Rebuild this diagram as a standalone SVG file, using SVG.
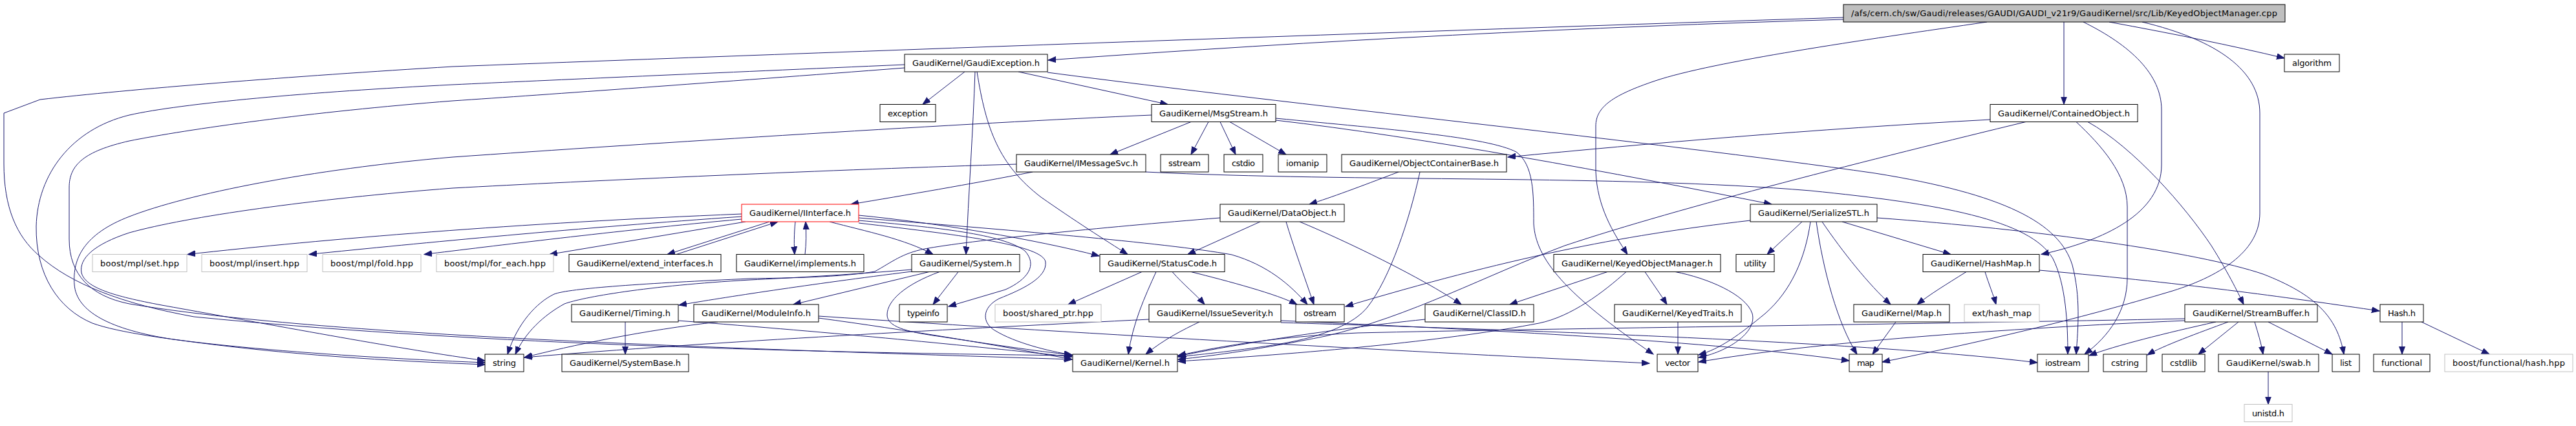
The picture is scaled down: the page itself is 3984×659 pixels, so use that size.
<svg xmlns="http://www.w3.org/2000/svg" width="3984" height="659" viewBox="0 0 3984 659">
<style>
.n rect{fill:#ffffff;stroke:#000000;stroke-width:1}
.x rect{fill:#ffffff;stroke:#bfbfbf;stroke-width:1}
.r rect{fill:#ffffff;stroke:#ff0000;stroke-width:1}
.root rect{fill:#bfbfbf;stroke:#000000;stroke-width:1}
text{font-family:"DejaVu Sans","Liberation Sans",sans-serif;font-size:13px;text-anchor:middle;fill:#000000}
#edges path{fill:none;stroke:#191970;stroke-width:1;marker-end:url(#a)}
</style>
<defs>
<marker id="a" markerUnits="userSpaceOnUse" markerWidth="13" markerHeight="10" refX="12" refY="4.5" orient="auto">
<path d="M0,0 L12,4.5 L0,9 z" fill="#191970" stroke="#191970" stroke-width="1"/>
</marker>
</defs>
<rect x="0" y="0" width="3984" height="659" fill="#ffffff"/>
<g id="edges">
<path d="M2851,30 C2450,42 2050,62 1621,93"/>
<path d="M2851,27 C2200,48 1300,80 700,103 C450,118 200,138 62,154 L6,175 L6,253 C6,320 25,365 60,395 C110,440 190,470 300,490 C700,530 1200,545 1658,550"/>
<path d="M3073,34 C2880,62 2650,95 2560,125 C2495,147 2468,165 2468,195 L2468,265 C2470,320 2495,360 2517,393.5"/>
<path d="M3192,34 L3192,161.5"/>
<path d="M3222,34 C3295,70 3343,115 3343,170 L3343,255 C3343,330 3255,372 3157,393.5"/>
<path d="M3262,34 C3360,52 3450,70 3533,90"/>
<path d="M3313,34 C3430,62 3495,110 3495,175 L3495,330 C3495,385 3440,425 3360,450 C3210,495 3060,530 2911,560"/>
<path d="M1492,111 L1427,161.5"/>
<path d="M1575,111 L1806,161.5"/>
<path d="M1508,111 C1505,200 1498,300 1494,393.5"/>
<path d="M1511,111 C1525,200 1545,255 1610,305 C1660,340 1710,372 1744,393.5"/>
<path d="M1620,112 C2000,162 2550,218 2900,268 C3100,300 3185,345 3205,410 C3218,460 3214,505 3211,548"/>
<path d="M1399,100 C1100,113 850,124 700,131 C480,142 280,160 200,178 C110,200 58,270 56,350 C55,425 90,478 143,500 C220,528 480,550 750,561"/>
<path d="M1399,105 C1100,128 850,146 700,156 C480,173 290,200 200,218 C130,234 107,255 107,290 L107,370 C107,425 140,458 200,470 C500,520 1100,538 1658,556"/>
<path d="M1842,188.5 L1717,239"/>
<path d="M1869,188.5 L1842,239"/>
<path d="M1887,188.5 L1911,239"/>
<path d="M1902,188.5 L1989,239"/>
<path d="M1973,186 C2200,212 2500,268 2740,316"/>
<path d="M1973,183 C2150,200 2300,212 2345,235 C2372,255 2372,300 2372,346 C2375,400 2420,455 2557,548"/>
<path d="M1781,178 C1500,190 1000,222 700,243 C480,262 290,300 200,335 C130,362 112,400 115,440 C118,482 170,510 268,525 C450,550 600,558 750,564"/>
<path d="M1597,266 C1500,285 1400,302 1316,316"/>
<path d="M1772,266 C2100,282 2500,270 2800,295 C3000,315 3140,340 3175,400 C3195,440 3198,500 3198,548"/>
<path d="M1572,254 C1300,262 900,280 700,291 C480,308 290,335 200,360 C145,378 122,400 126,422 C132,445 175,458 250,472 C450,508 620,540 750,558"/>
<path d="M1147,331 C800,345 500,370 290,393.5"/>
<path d="M1147,335 C900,352 650,376 478,393.5"/>
<path d="M1147,339 C950,357 760,381 656,393.5"/>
<path d="M1153,343 L850,393.5"/>
<path d="M1190,343 L1032,393.5"/>
<path d="M1046,393.5 L1203,343"/>
<path d="M1230,343 C1228,362 1228,380 1229,393.5"/>
<path d="M1245,393.5 C1247,378 1247,360 1246,343"/>
<path d="M1283,343 C1340,358 1400,370 1443,393.5"/>
<path d="M1328,333 C1450,345 1600,370 1700,396"/>
<path d="M1328,337 C1550,355 1800,375 1905,394 C1960,410 1995,440 2022,471"/>
<path d="M1328,341 C1450,352 1550,362 1585,388 C1605,410 1590,432 1555,448 L1467,474"/>
<path d="M1328,345 C1500,365 1612,380 1617,405 C1620,430 1580,448 1545,462 C1518,476 1518,500 1540,512 C1570,530 1620,543 1658,549"/>
<path d="M1887,337 C1700,352 1500,372 1430,385 C1395,392 1380,405 1353,420 C1300,429 1220,430 1160,431 C1000,438 880,446 857,455 C830,468 800,500 785,548"/>
<path d="M1410,420 C1250,440 1120,460 1050,472"/>
<path d="M1437,420.5 L1227,471"/>
<path d="M1482,420.5 L1443,471"/>
<path d="M1410,417 C1300,426 1220,430 1160,433 C1000,442 900,460 873,470 C840,488 812,515 797,548"/>
<path d="M1453,420.5 C1400,440 1372,465 1372,487 C1372,505 1400,513 1450,520 C1530,532 1600,543 1658,549"/>
<path d="M967,498 L967,548"/>
<path d="M1049,496 C1300,515 1500,535 1658,552"/>
<path d="M1110,498 C1000,510 880,535 811,553"/>
<path d="M1266,492 C1400,510 1550,535 1658,556"/>
<path d="M1266,489 C1700,518 2200,545 2551,562"/>
<path d="M1766,420.5 L1652,471"/>
<path d="M1788,420.5 C1770,460 1752,500 1745,548"/>
<path d="M1813,420.5 C1830,440 1850,456 1863,471"/>
<path d="M1842,420.5 C1900,435 1975,455 2006,471"/>
<path d="M1855,498 C1830,510 1800,525 1772,548"/>
<path d="M1777,494 C1500,508 1100,528 811,553"/>
<path d="M1981,496 C2300,510 2650,528 2860,558"/>
<path d="M1981,499 C2400,512 2900,530 3151,561"/>
<path d="M1949,343 L1837,393.5"/>
<path d="M1989,343 C2000,380 2018,430 2032,471"/>
<path d="M2010,343 C2080,372 2200,430 2260,471"/>
<path d="M2163,266 C2100,290 2060,305 2025,316"/>
<path d="M2196,266 C2180,340 2150,430 2115,475 C2095,500 2050,520 1980,532 C1920,542 1860,548 1822,552"/>
<path d="M3078,185 C2800,200 2550,222 2332,243"/>
<path d="M3133,188.5 C2900,245 2600,320 2420,380 C2300,425 2180,490 2050,520 C1950,540 1880,550 1822,556"/>
<path d="M3211,188.5 C3250,225 3290,270 3290,320 L3290,430 C3290,480 3262,520 3224,548"/>
<path d="M3229,188.5 C3300,228 3380,320 3420,380 C3445,420 3460,450 3470,471"/>
<path d="M2486,420.5 L2335,471"/>
<path d="M2515,420.5 C2480,452 2430,490 2380,500 C2250,525 2050,545 1822,559"/>
<path d="M2544,420.5 C2555,437 2568,455 2578,471"/>
<path d="M2591,420.5 C2640,430 2700,455 2710,485 C2718,515 2670,545 2627,553"/>
<path d="M2595,498 L2595,548"/>
<path d="M2787,343 L2733,393.5"/>
<path d="M2800,343 C2792,400 2770,450 2730,485 C2690,518 2660,540 2627,549"/>
<path d="M2809,343 C2820,420 2842,500 2872,548"/>
<path d="M2818,343 C2850,390 2890,440 2924,471"/>
<path d="M2849,343 L3017,393.5"/>
<path d="M2903,337 C3150,355 3400,390 3500,424 C3580,455 3615,490 3625,548"/>
<path d="M2707,341 C2500,365 2330,400 2081,474"/>
<path d="M3041,420.5 C3010,440 2985,455 2965,471"/>
<path d="M3070,420.5 C3076,440 3083,456 3087,471"/>
<path d="M3154,418 C3400,440 3550,462 3680,481"/>
<path d="M2932,498 L2896,548"/>
<path d="M3379,493 C3000,501 2400,508 2100,515 C1950,522 1870,540 1822,550"/>
<path d="M3379,496 C3100,508 2800,530 2627,560"/>
<path d="M3427,498 C3350,515 3270,535 3231,550"/>
<path d="M3446,498 C3400,515 3345,535 3321,549"/>
<path d="M3462,498 L3400,548"/>
<path d="M3487,498 C3492,515 3497,530 3500,548"/>
<path d="M3508,498 L3607,548"/>
<path d="M3715,498 L3715,548"/>
<path d="M3745,498 L3850,548"/>
<path d="M3508,575 L3508,625.5"/>
<path d="M2204,494 C2050,510 1900,535 1822,551"/>
</g>
<g id="n_top" class="root"><rect x="2851" y="7" width="683" height="27"/><text x="3192.5" y="25" textLength="659" lengthAdjust="spacing">/afs/cern.ch/sw/Gaudi/releases/GAUDI/GAUDI_v21r9/GaudiKernel/src/Lib/KeyedObjectManager.cpp</text></g>
<g id="n_gexc" class="n"><rect x="1399" y="84" width="221" height="27"/><text x="1509.5" y="102" textLength="197" lengthAdjust="spacing">GaudiKernel/GaudiException.h</text></g>
<g id="n_algorithm" class="n"><rect x="3533" y="84" width="85" height="27"/><text x="3575.5" y="102" textLength="61" lengthAdjust="spacing">algorithm</text></g>
<g id="n_exception" class="n"><rect x="1361" y="161.5" width="86" height="27"/><text x="1404" y="179.5" textLength="62" lengthAdjust="spacing">exception</text></g>
<g id="n_msgstream" class="n"><rect x="1781" y="161.5" width="192" height="27"/><text x="1877" y="179.5" textLength="168" lengthAdjust="spacing">GaudiKernel/MsgStream.h</text></g>
<g id="n_contained" class="n"><rect x="3078" y="161.5" width="228" height="27"/><text x="3192" y="179.5" textLength="204" lengthAdjust="spacing">GaudiKernel/ContainedObject.h</text></g>
<g id="n_imsgsvc" class="n"><rect x="1572" y="239" width="200" height="27"/><text x="1672" y="257" textLength="176" lengthAdjust="spacing">GaudiKernel/IMessageSvc.h</text></g>
<g id="n_sstream" class="n"><rect x="1795" y="239" width="74" height="27"/><text x="1832" y="257" textLength="50" lengthAdjust="spacing">sstream</text></g>
<g id="n_cstdio" class="n"><rect x="1893" y="239" width="60" height="27"/><text x="1923" y="257" textLength="36" lengthAdjust="spacing">cstdio</text></g>
<g id="n_iomanip" class="n"><rect x="1977" y="239" width="75" height="27"/><text x="2014.5" y="257" textLength="51" lengthAdjust="spacing">iomanip</text></g>
<g id="n_ocb" class="n"><rect x="2075" y="239" width="255" height="27"/><text x="2202.5" y="257" textLength="231" lengthAdjust="spacing">GaudiKernel/ObjectContainerBase.h</text></g>
<g id="n_iinterface" class="r"><rect x="1147" y="316" width="181" height="27"/><text x="1237.5" y="334" textLength="157" lengthAdjust="spacing">GaudiKernel/IInterface.h</text></g>
<g id="n_dataobject" class="n"><rect x="1887" y="316" width="192" height="27"/><text x="1983" y="334" textLength="168" lengthAdjust="spacing">GaudiKernel/DataObject.h</text></g>
<g id="n_serialize" class="n"><rect x="2707" y="316" width="196" height="27"/><text x="2805" y="334" textLength="172" lengthAdjust="spacing">GaudiKernel/SerializeSTL.h</text></g>
<g id="n_mplset" class="x"><rect x="143" y="393.5" width="146" height="27"/><text x="216" y="411.5" textLength="122" lengthAdjust="spacing">boost/mpl/set.hpp</text></g>
<g id="n_mplinsert" class="x"><rect x="312" y="393.5" width="163" height="27"/><text x="393.5" y="411.5" textLength="139" lengthAdjust="spacing">boost/mpl/insert.hpp</text></g>
<g id="n_mplfold" class="x"><rect x="499" y="393.5" width="152" height="27"/><text x="575" y="411.5" textLength="128" lengthAdjust="spacing">boost/mpl/fold.hpp</text></g>
<g id="n_mplforeach" class="x"><rect x="675" y="393.5" width="181" height="27"/><text x="765.5" y="411.5" textLength="157" lengthAdjust="spacing">boost/mpl/for_each.hpp</text></g>
<g id="n_extend" class="n"><rect x="880" y="393.5" width="235" height="27"/><text x="997.5" y="411.5" textLength="211" lengthAdjust="spacing">GaudiKernel/extend_interfaces.h</text></g>
<g id="n_implements" class="n"><rect x="1139" y="393.5" width="197" height="27"/><text x="1237.5" y="411.5" textLength="173" lengthAdjust="spacing">GaudiKernel/implements.h</text></g>
<g id="n_system" class="n"><rect x="1410" y="393.5" width="167" height="27"/><text x="1493.5" y="411.5" textLength="143" lengthAdjust="spacing">GaudiKernel/System.h</text></g>
<g id="n_statuscode" class="n"><rect x="1701" y="393.5" width="193" height="27"/><text x="1797.5" y="411.5" textLength="169" lengthAdjust="spacing">GaudiKernel/StatusCode.h</text></g>
<g id="n_kom" class="n"><rect x="2403" y="393.5" width="258" height="27"/><text x="2532" y="411.5" textLength="234" lengthAdjust="spacing">GaudiKernel/KeyedObjectManager.h</text></g>
<g id="n_utility" class="n"><rect x="2685" y="393.5" width="59" height="27"/><text x="2714.5" y="411.5" textLength="35" lengthAdjust="spacing">utility</text></g>
<g id="n_hashmap" class="n"><rect x="2974" y="393.5" width="180" height="27"/><text x="3064" y="411.5" textLength="156" lengthAdjust="spacing">GaudiKernel/HashMap.h</text></g>
<g id="n_timing" class="n"><rect x="884" y="471" width="165" height="27"/><text x="966.5" y="489" textLength="141" lengthAdjust="spacing">GaudiKernel/Timing.h</text></g>
<g id="n_moduleinfo" class="n"><rect x="1073" y="471" width="193" height="27"/><text x="1169.5" y="489" textLength="169" lengthAdjust="spacing">GaudiKernel/ModuleInfo.h</text></g>
<g id="n_typeinfo" class="n"><rect x="1391" y="471" width="74" height="27"/><text x="1428" y="489" textLength="50" lengthAdjust="spacing">typeinfo</text></g>
<g id="n_sharedptr" class="x"><rect x="1539" y="471" width="164" height="27"/><text x="1621" y="489" textLength="140" lengthAdjust="spacing">boost/shared_ptr.hpp</text></g>
<g id="n_issue" class="n"><rect x="1777" y="471" width="204" height="27"/><text x="1879" y="489" textLength="180" lengthAdjust="spacing">GaudiKernel/IssueSeverity.h</text></g>
<g id="n_ostream" class="n"><rect x="2004" y="471" width="75" height="27"/><text x="2041.5" y="489" textLength="51" lengthAdjust="spacing">ostream</text></g>
<g id="n_classid" class="n"><rect x="2204" y="471" width="168" height="27"/><text x="2288" y="489" textLength="144" lengthAdjust="spacing">GaudiKernel/ClassID.h</text></g>
<g id="n_keyedtraits" class="n"><rect x="2497" y="471" width="196" height="27"/><text x="2595" y="489" textLength="172" lengthAdjust="spacing">GaudiKernel/KeyedTraits.h</text></g>
<g id="n_maph" class="n"><rect x="2867" y="471" width="148" height="27"/><text x="2941" y="489" textLength="124" lengthAdjust="spacing">GaudiKernel/Map.h</text></g>
<g id="n_exthash" class="x"><rect x="3038" y="471" width="116" height="27"/><text x="3096" y="489" textLength="92" lengthAdjust="spacing">ext/hash_map</text></g>
<g id="n_streambuffer" class="n"><rect x="3379" y="471" width="205" height="27"/><text x="3481.5" y="489" textLength="181" lengthAdjust="spacing">GaudiKernel/StreamBuffer.h</text></g>
<g id="n_hashh" class="n"><rect x="3681" y="471" width="67" height="27"/><text x="3714.5" y="489" textLength="43" lengthAdjust="spacing">Hash.h</text></g>
<g id="n_string" class="n"><rect x="750" y="548" width="60" height="27"/><text x="780" y="566" textLength="36" lengthAdjust="spacing">string</text></g>
<g id="n_systembase" class="n"><rect x="869" y="548" width="196" height="27"/><text x="967" y="566" textLength="172" lengthAdjust="spacing">GaudiKernel/SystemBase.h</text></g>
<g id="n_kernel" class="n"><rect x="1659" y="548" width="162" height="27"/><text x="1740" y="566" textLength="138" lengthAdjust="spacing">GaudiKernel/Kernel.h</text></g>
<g id="n_vector" class="n"><rect x="2563" y="548" width="63" height="27"/><text x="2594.5" y="566" textLength="39" lengthAdjust="spacing">vector</text></g>
<g id="n_map" class="n"><rect x="2860" y="548" width="51" height="27"/><text x="2885.5" y="566" textLength="27" lengthAdjust="spacing">map</text></g>
<g id="n_iostream" class="n"><rect x="3151" y="548" width="79" height="27"/><text x="3190.5" y="566" textLength="55" lengthAdjust="spacing">iostream</text></g>
<g id="n_cstring" class="n"><rect x="3253" y="548" width="67" height="27"/><text x="3286.5" y="566" textLength="43" lengthAdjust="spacing">cstring</text></g>
<g id="n_cstdlib" class="n"><rect x="3344" y="548" width="66" height="27"/><text x="3377" y="566" textLength="42" lengthAdjust="spacing">cstdlib</text></g>
<g id="n_swab" class="n"><rect x="3431" y="548" width="155" height="27"/><text x="3508.5" y="566" textLength="131" lengthAdjust="spacing">GaudiKernel/swab.h</text></g>
<g id="n_list" class="n"><rect x="3607" y="548" width="42" height="27"/><text x="3628" y="566" textLength="18" lengthAdjust="spacing">list</text></g>
<g id="n_functional" class="n"><rect x="3671" y="548" width="87" height="27"/><text x="3714.5" y="566" textLength="63" lengthAdjust="spacing">functional</text></g>
<g id="n_hashhpp" class="x"><rect x="3781" y="548" width="198" height="27"/><text x="3880" y="566" textLength="174" lengthAdjust="spacing">boost/functional/hash.hpp</text></g>
<g id="n_unistd" class="x"><rect x="3471" y="625.5" width="74" height="27"/><text x="3508" y="643.5" textLength="50" lengthAdjust="spacing">unistd.h</text></g>
</svg>
